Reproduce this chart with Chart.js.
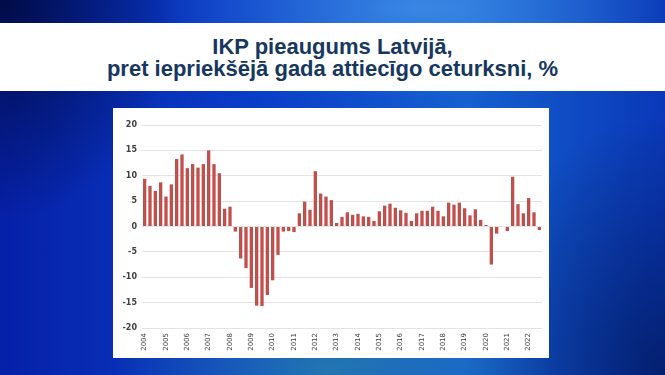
<!DOCTYPE html>
<html>
<head>
<meta charset="utf-8">
<script src="https://cdn.jsdelivr.net/npm/chart.js@4"></script>
<style>
  html, body { margin: 0; padding: 0; }
  body {
    width: 665px; height: 375px; overflow: hidden; position: relative;
    background:
      radial-gradient(ellipse 260px 90px at 420px 8px, rgba(70,150,235,0.75), rgba(70,150,235,0) 100%),
      radial-gradient(ellipse 220px 120px at 330px 370px, rgba(40,130,170,0.8), rgba(40,130,170,0) 100%),
      radial-gradient(ellipse 180px 220px at 0px 0px, rgba(0,10,60,0.9), rgba(0,10,60,0) 100%),
      radial-gradient(ellipse 200px 260px at 665px 375px, rgba(0,20,80,0.7), rgba(0,20,80,0) 100%),
      linear-gradient(90deg, #0620a8 0%, #0a3fc8 40%, #1560d0 70%, #0a38b8 100%);
    font-family: "DejaVu Sans", sans-serif;
  }
  #band {
    position: absolute; left: 0; top: 23px; width: 665px; height: 68px;
    background: #fff; text-align: center;
    font-family: "Liberation Sans", Arial, sans-serif; font-weight: bold;
    font-size: 22px; line-height: 22px; color: #17375e;
    box-sizing: border-box; padding-top: 13px;
  }
  #box {
    position: absolute; left: 113px; top: 108px; width: 436px; height: 250px;
    background: #fff;
  }
</style>
</head>
<body>
<div id="band">IKP pieaugums Latvijā,<br>pret iepriekšējā gada attiecīgo ceturksni, %</div>
<div id="box"><canvas id="myChart" width="436" height="250"></canvas></div>
<script>
// Years shown on the axis (label at each first quarter)
const years = ["2004","2005","2006","2007","2008","2009","2010","2011","2012","2013",
               "2014","2015","2016","2017","2018","2019","2020","2021","2022"];

// Quarterly GDP growth, % vs same quarter of previous year (2004 Q1 - 2022 Q3)
const growth = [
    9.4, 8.0, 7.0, 8.7, 5.9, 8.3, 13.3, 14.2, 11.5, 12.3, 11.6, 12.3, 15.0, 12.3, 10.5, 3.5, 3.9, -1.0, -6.3, -8.2,
    -12.1, -15.6, -15.7, -13.5, -10.6, -5.6, -1.0, -0.9, -1.1, 2.6, 4.9, 3.3, 10.9, 6.5, 5.9, 5.2, 0.7, 1.9, 2.8, 2.3,
    2.5, 2.0, 1.9, 1.1, 3.0, 4.1, 4.5, 3.7, 3.2, 2.7, 1.1, 2.6, 3.1, 3.1, 3.9, 3.1, 2.0, 4.7, 4.3, 4.7,
    3.6, 2.2, 3.4, 1.3, 0.3, -7.5, -1.4, 0, -0.9, 9.8, 4.4, 2.6, 5.6, 2.8, -0.7
];

// Y tick values
const yTicks = [20, 15, 10, 5, 0, -5, -10, -15, -20];

// Category labels: "2004 Q1" ...
const quarters = [];
years.forEach(y => {
    for (let q = 1; q <= 4; q++) quarters.push(`${y} Q${q}`);
});
quarters.length = growth.length;

// Helper: year labels drawn rotated bottom-to-top at Q1 positions
const yearLabels = {
    id: "yearLabels",
    afterDraw(chart) {
        const x = chart.scales.x;
        const ctx = chart.ctx;
        ctx.save();
        ctx.font = "7px 'DejaVu Sans'";
        ctx.fillStyle = "#404040";
        ctx.textAlign = "right";
        ctx.textBaseline = "middle";
        quarters.forEach((q, i) => {
            if (!q.endsWith("Q1")) return;
            const px = x.getPixelForValue(i);
            ctx.save();
            ctx.translate(px, x.top + 5);
            ctx.rotate(-Math.PI / 2);
            ctx.fillText(q.slice(0, 4), 0, 0);
            ctx.restore();
        });
        ctx.restore();
    }
};

const ctx = document.getElementById("myChart").getContext("2d");
new Chart(ctx, {
    type: "bar",
    data: {
        labels: quarters,
        datasets: [{
            data: growth,
            backgroundColor: "#c0504d",
            barPercentage: 0.62,
            categoryPercentage: 1.0
        }]
    },
    options: {
        responsive: false,
        animation: false,
        layout: { padding: { top: 17, right: 7, left: 0, bottom: 0 } },
        plugins: { legend: { display: false }, tooltip: { enabled: false } },
        scales: {
            x: {
                grid: { display: false },
                border: { display: false },
                ticks: { display: false },
                afterFit: s => { s.height = 30; }
            },
            y: {
                min: -20,
                max: 20,
                afterBuildTicks: s => { s.ticks = yTicks.map(v => ({ value: v })); },
                afterFit: s => { s.width = 29; },
                grid: { color: "#e3e3e3", drawTicks: false },
                border: { display: false },
                ticks: {
                    padding: 5,
                    color: "#404040",
                    font: { family: "DejaVu Sans", size: 8, weight: "bold" }
                }
            }
        }
    },
    plugins: [yearLabels]
});
</script>
</body>
</html>
